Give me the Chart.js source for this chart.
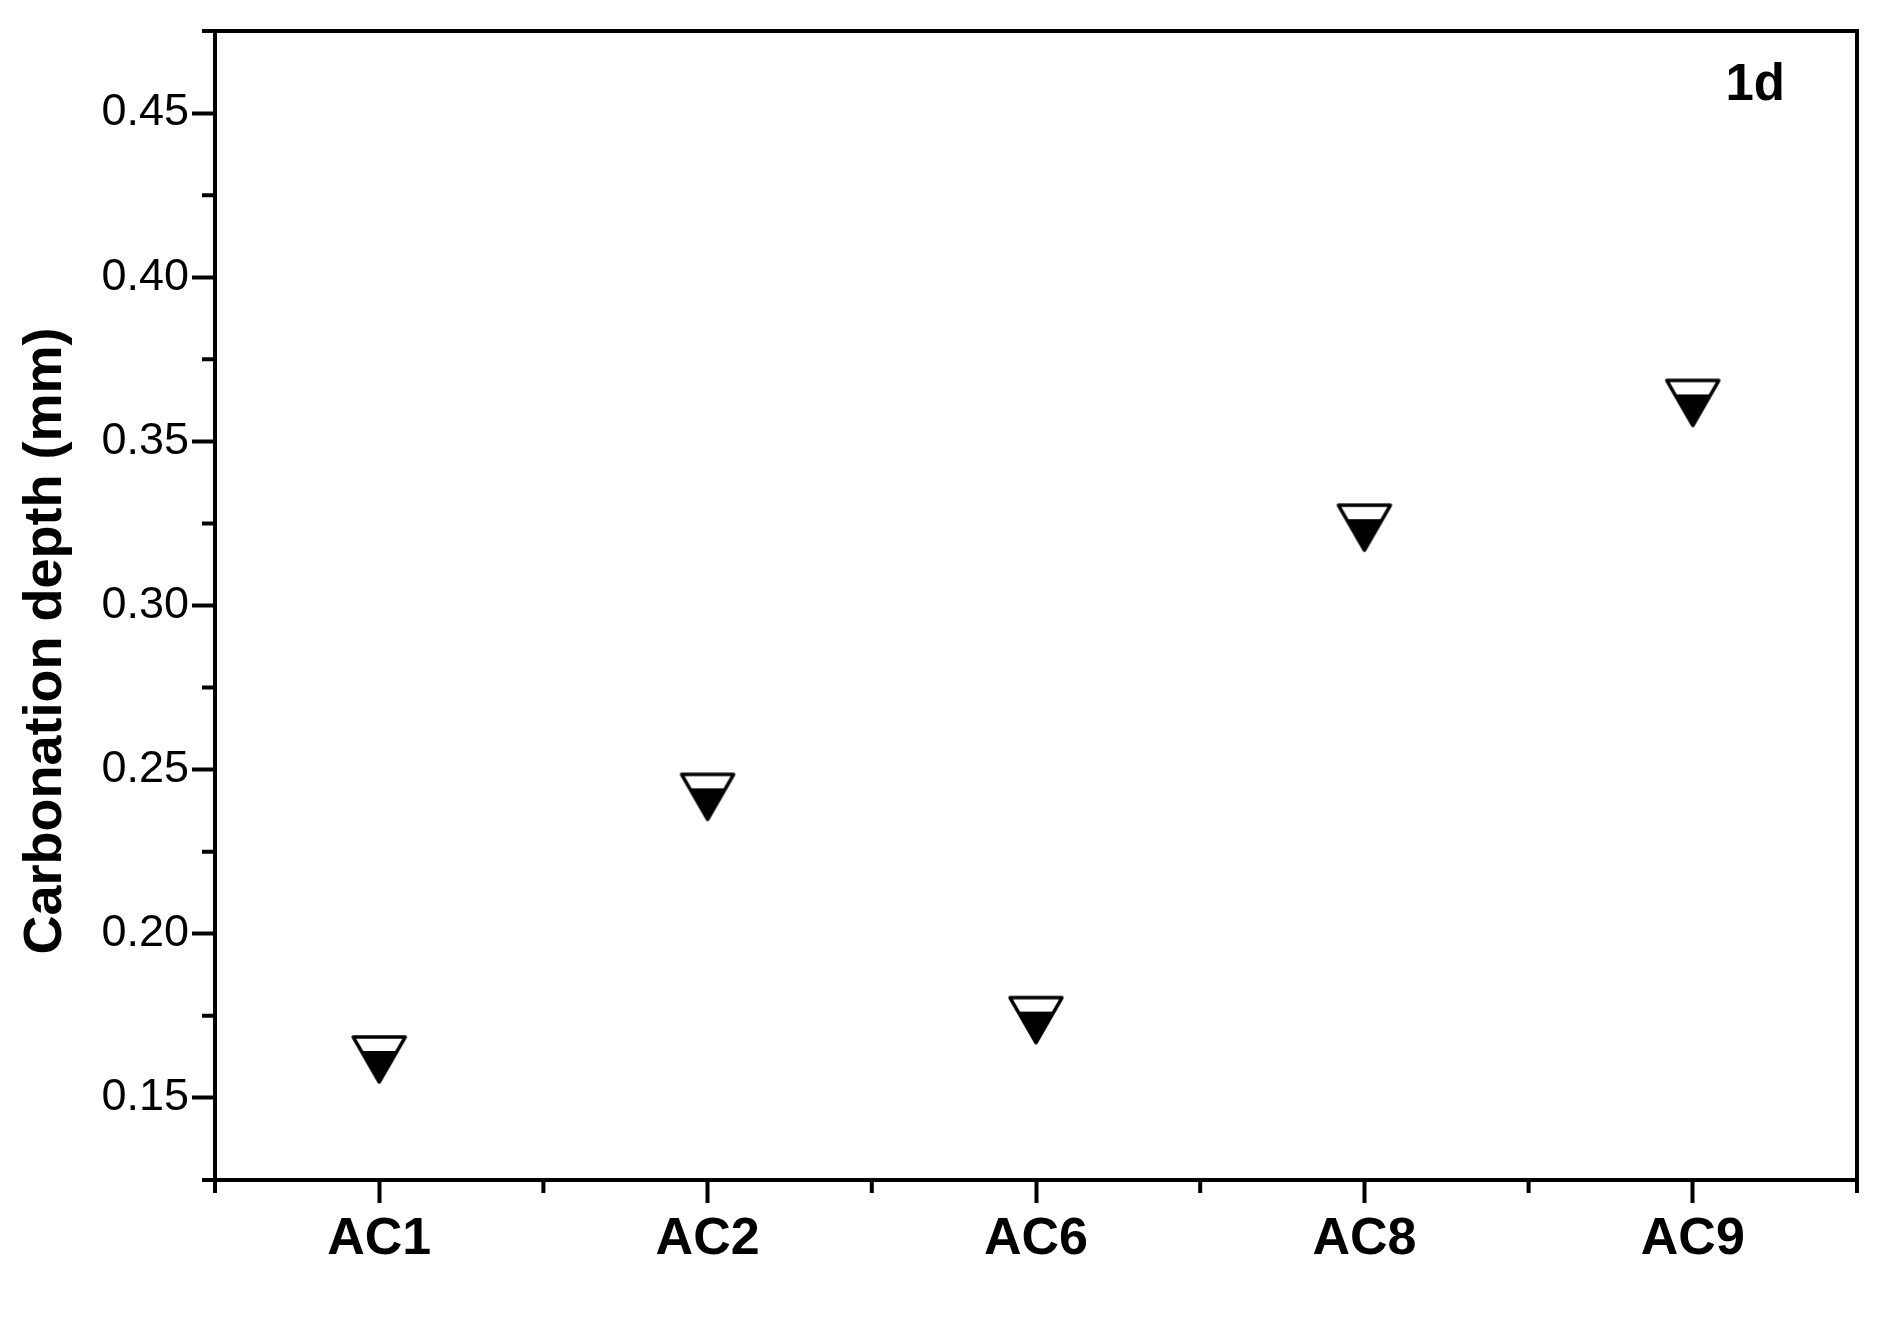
<!DOCTYPE html>
<html>
<head>
<meta charset="utf-8">
<script src="https://cdn.jsdelivr.net/npm/chart.js@4/dist/chart.umd.min.js"></script>
<style>
  html, body { margin: 0; padding: 0; background: #fff; }
  canvas { display: block; }
</style>
</head>
<body>
<canvas id="chart" width="1888" height="1328"></canvas>
<script>
const categories = ['AC1', 'AC2', 'AC6', 'AC8', 'AC9']
const depth = [0.164, 0.244, 0.176, 0.326, 0.364]

const yMajor = [0.15, 0.20, 0.25, 0.30, 0.35, 0.40, 0.45]
const yMinor = [0.125, 0.175, 0.225, 0.275, 0.325, 0.375, 0.425, 0.475]
const xMajor = [1, 2, 3, 4, 5]
const xMinor = [0.5, 1.5, 2.5, 3.5, 4.5, 5.5]

const yTitle = 'Carbonation depth (mm)'
const panelLabel = '1d'

const FONT = '"Liberation Sans", Arial, Helvetica, sans-serif'

// down triangle, white on top, black below the centre
function makeMarker(r, lw) {
  const size = 72
  const c = document.createElement('canvas')
  c.width = c.height = size
  const g = c.getContext('2d')
  const cx = size / 2
  const cy = size / 2
  const hw = r * Math.sqrt(3) / 2
  g.beginPath()
  g.moveTo(cx - hw, cy - r / 2)
  g.lineTo(cx + hw, cy - r / 2)
  g.lineTo(cx, cy + r)
  g.closePath()
  g.fillStyle = '#fff'
  g.fill()
  g.save()
  g.clip()
  g.fillStyle = '#000'
  g.fillRect(0, cy - 1, size, size)
  g.restore()
  g.lineWidth = lw
  g.lineJoin = 'round'
  g.strokeStyle = '#000'
  g.stroke()
  return c
}

const marker = makeMarker(30, 3.5)

const minorTicks = {
  id: 'minorTicks',
  afterDraw(chart) {
    const {ctx} = chart
    const {x, y} = chart.scales
    ctx.save()
    ctx.strokeStyle = '#000'
    ctx.lineWidth = 4
    ctx.beginPath()
    yMinor.forEach((v) => {
      const py = y.getPixelForValue(v)
      ctx.moveTo(y.right - 13, py)
      ctx.lineTo(y.right + 2, py)
    })
    xMinor.forEach((v) => {
      const px = x.getPixelForValue(v)
      ctx.moveTo(px, x.top - 2)
      ctx.lineTo(px, x.top + 13)
    })
    ctx.stroke()
    ctx.restore()
  },
}

const labels = {
  id: 'labels',
  afterDraw(chart) {
    const {ctx, chartArea} = chart
    ctx.save()
    ctx.fillStyle = '#000'
    ctx.font = 'bold 54px ' + FONT
    ctx.translate(46, 641)
    ctx.rotate(-Math.PI / 2)
    ctx.textAlign = 'center'
    ctx.textBaseline = 'middle'
    ctx.fillText(yTitle, 0, 0)
    ctx.restore()

    ctx.save()
    ctx.fillStyle = '#000'
    ctx.font = 'bold 51px ' + FONT
    ctx.textAlign = 'right'
    ctx.textBaseline = 'alphabetic'
    ctx.fillText(panelLabel, chartArea.right - 72, chartArea.top + 69)
    ctx.restore()
  },
}

const axisGrid = {
  display: true,
  drawOnChartArea: false,
  drawTicks: true,
  tickLength: 23,
  tickWidth: 4,
  tickColor: '#000',
}

const axisBorder = {display: true, width: 4, color: '#000'}

new Chart(document.getElementById('chart'), {
  type: 'scatter',
  data: {
    datasets: [{
      label: 'Carbonation depth',
      data: depth.map((v, i) => ({x: xMajor[i], y: v})),
      pointStyle: marker,
      pointRadius: 30,
      pointHoverRadius: 30,
      showLine: false,
    }],
  },
  options: {
    responsive: false,
    devicePixelRatio: 1,
    animation: false,
    layout: {padding: {top: 31, right: 29, left: 0, bottom: 0}},
    plugins: {
      legend: {display: false},
      tooltip: {enabled: false},
    },
    scales: {
      x: {
        type: 'linear',
        position: 'bottom',
        min: 0.5,
        max: 5.5,
        grid: axisGrid,
        border: axisBorder,
        afterFit: (s) => { s.height = 148 },
        afterBuildTicks: (s) => { s.ticks = xMajor.map((v) => ({value: v})) },
        ticks: {
          autoSkip: false,
          maxRotation: 0,
          padding: 5,
          color: '#000',
          font: {family: FONT, size: 52, weight: 'bold'},
          callback: (v, i) => categories[i],
        },
      },
      y: {
        type: 'linear',
        position: 'left',
        min: 0.125,
        max: 0.475,
        grid: axisGrid,
        border: axisBorder,
        afterFit: (s) => { s.width = 215 },
        afterBuildTicks: (s) => { s.ticks = yMajor.map((v) => ({value: v})) },
        ticks: {
          padding: 3,
          color: '#000',
          font: {family: FONT, size: 45},
          callback: (v) => v.toFixed(2),
        },
      },
      xTop: {
        type: 'linear',
        position: 'top',
        min: 0.5,
        max: 5.5,
        grid: {display: false},
        border: axisBorder,
        ticks: {display: false},
        afterFit: (s) => { s.height = 0 },
      },
      yRight: {
        type: 'linear',
        position: 'right',
        min: 0.125,
        max: 0.475,
        grid: {display: false},
        border: axisBorder,
        ticks: {display: false},
        afterFit: (s) => { s.width = 0 },
      },
    },
  },
  plugins: [minorTicks, labels],
})
</script>
</body>
</html>
